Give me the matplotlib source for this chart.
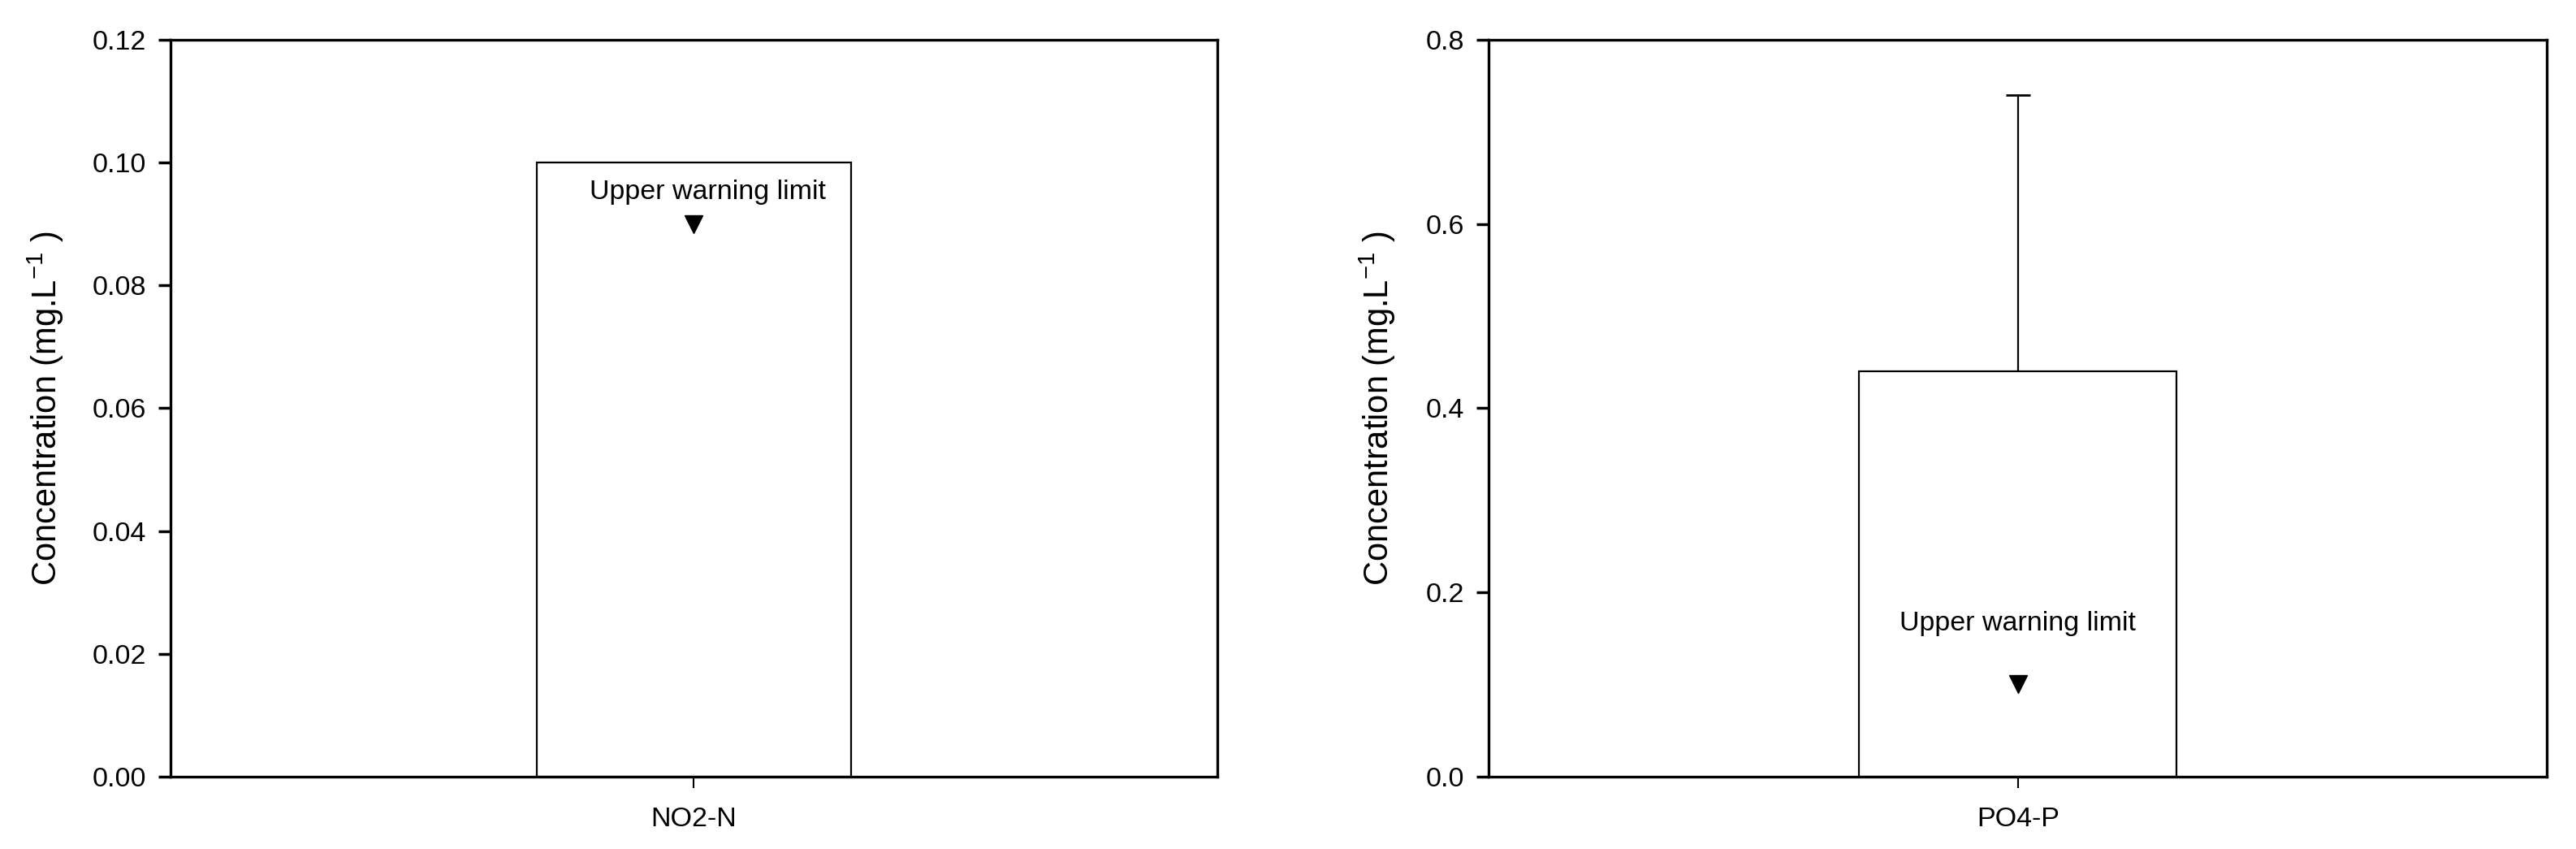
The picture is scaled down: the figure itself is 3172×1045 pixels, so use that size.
import matplotlib
matplotlib.use("Agg")
import matplotlib.pyplot as plt
from matplotlib.ticker import FormatStrFormatter, MultipleLocator

plt.rcParams['font.family'] = ['Liberation Sans', 'DejaVu Sans']
plt.rcParams['mathtext.fontset'] = 'custom'
plt.rcParams['mathtext.rm'] = 'Liberation Sans'
plt.rcParams['mathtext.it'] = 'Liberation Sans:italic'
plt.rcParams['mathtext.bf'] = 'Liberation Sans:bold'

# Data
categories_left = ["NO2-N"]
values_left = [0.10]
warning_left = [0.09]

categories_right = ["PO4-P"]
values_right = [0.44]
err_upper_right = [0.30]
warning_right = [0.10]

ylim_left = (0.0, 0.12)
ylim_right = (0.0, 0.8)
ylabel = "Concentration (mg.L$^{-1}$ )"
warn_text = "Upper warning limit"

W, H, DPI = 3172, 1045, 100
fig = plt.figure(figsize=(W / DPI, H / DPI), dpi=DPI)

ax1 = fig.add_axes([210 / W, 0.0854, 1288.7 / W, 0.8675])
ax2 = fig.add_axes([1833.3 / W, 0.0854, 1303 / W, 0.8675])

TICK_FS = 24.5
LABEL_FS = 30

def style(ax, ylim, step, fmt, label_x):
    ax.set_xlim(-0.5, 0.5)
    ax.set_ylim(*ylim)
    ax.yaxis.set_major_locator(MultipleLocator(step))
    ax.yaxis.set_major_formatter(FormatStrFormatter(fmt))
    for s in ax.spines.values():
        s.set_linewidth(2.4)
    ax.tick_params(axis='y', direction='out', length=10.5, width=2.5,
                   pad=11, labelsize=TICK_FS)
    ax.tick_params(axis='x', direction='out', length=10, width=1.5,
                   pad=17, labelsize=TICK_FS)
    ax.set_ylabel(ylabel, fontsize=LABEL_FS, va='center')
    ax.yaxis.set_label_coords(label_x, 0.5)

# Left panel
x1 = list(range(len(categories_left)))
ax1.bar(x1, values_left, width=0.3, color='white', edgecolor='black',
        linewidth=1.6, zorder=2)
ax1.plot(x1, warning_left, marker='v', linestyle='none', color='black',
         markersize=16, zorder=3)
ax1.text(x1[0] + 0.0135, 0.0941, warn_text, ha='center', va='baseline',
         fontsize=TICK_FS, zorder=4)
ax1.set_xticks(x1)
ax1.set_xticklabels(categories_left)
style(ax1, ylim_left, 0.02, '%.2f', -0.119)

# Right panel
x2 = list(range(len(categories_right)))
ax2.bar(x2, values_right, width=0.3, color='white', edgecolor='black',
        linewidth=1.6, zorder=2)
ax2.errorbar(x2, values_right, yerr=[[0] * len(values_right), err_upper_right],
             fmt='none', ecolor='black', elinewidth=1.6, capsize=10.5,
             capthick=2.0, zorder=1)
ax2.plot(x2, warning_right, marker='v', linestyle='none', color='black',
         markersize=16, zorder=3)
ax2.text(x2[0], 0.1588, warn_text, ha='center', va='baseline',
         fontsize=TICK_FS, zorder=4)
ax2.set_xticks(x2)
ax2.set_xticklabels(categories_right)
style(ax2, ylim_right, 0.2, '%.1f', -0.105)

fig.savefig("out.png", dpi=DPI, facecolor='white')
